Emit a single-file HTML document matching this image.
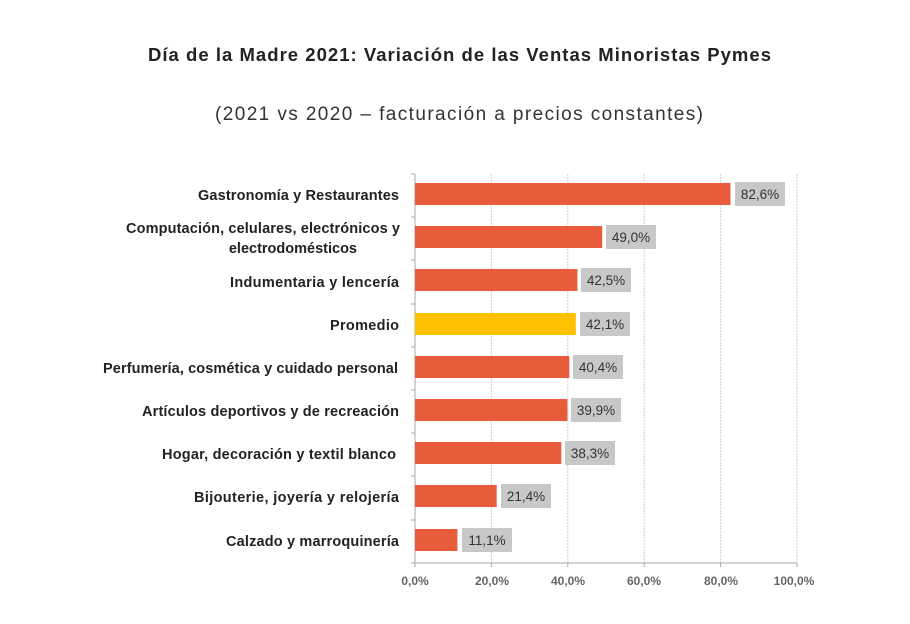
<!DOCTYPE html>
<html><head><meta charset="utf-8"><style>
body{margin:0;width:910px;height:619px;background:#fff;font-family:"Liberation Sans",sans-serif;overflow:hidden}
</style></head><body>
<svg width="910" height="619" xmlns="http://www.w3.org/2000/svg" font-family="Liberation Sans, sans-serif">
<text x="148" y="61" textLength="623" lengthAdjust="spacing" font-size="18.5" font-weight="bold" fill="#222">Día de la Madre 2021: Variación de las Ventas Minoristas Pymes</text>
<text x="215" y="120" textLength="488" lengthAdjust="spacing" font-size="19" fill="#333">(2021 vs 2020 – facturación a precios constantes)</text>
<g stroke="#cfcfcf" stroke-dasharray="2,1">
<line x1="491.4" y1="174" x2="491.4" y2="563"/>
<line x1="567.8" y1="174" x2="567.8" y2="563"/>
<line x1="644.2" y1="174" x2="644.2" y2="563"/>
<line x1="720.6" y1="174" x2="720.6" y2="563"/>
<line x1="797" y1="174" x2="797" y2="563"/>
</g>
<g stroke="#aaa">
<line x1="415" y1="174" x2="415" y2="563"/>
<line x1="415" y1="563" x2="797" y2="563"/>
<line x1="411" y1="174" x2="415" y2="174"/><line x1="411" y1="217" x2="415" y2="217"/><line x1="411" y1="260" x2="415" y2="260"/><line x1="411" y1="304" x2="415" y2="304"/><line x1="411" y1="347" x2="415" y2="347"/><line x1="411" y1="390" x2="415" y2="390"/><line x1="411" y1="433" x2="415" y2="433"/><line x1="411" y1="476" x2="415" y2="476"/><line x1="411" y1="520" x2="415" y2="520"/><line x1="411" y1="563" x2="415" y2="563"/>
<line x1="415" y1="563" x2="415" y2="567"/><line x1="491.4" y1="563" x2="491.4" y2="567"/><line x1="567.8" y1="563" x2="567.8" y2="567"/><line x1="644.2" y1="563" x2="644.2" y2="567"/><line x1="720.6" y1="563" x2="720.6" y2="567"/><line x1="797" y1="563" x2="797" y2="567"/>
</g>
<g font-size="12" font-weight="bold" fill="#666" text-anchor="middle">
<text x="415" y="585">0,0%</text><text x="492" y="585">20,0%</text><text x="568" y="585">40,0%</text><text x="644" y="585">60,0%</text><text x="721" y="585">80,0%</text><text x="794" y="585">100,0%</text>
</g>
<g font-size="14.5" font-weight="bold" fill="#222" text-anchor="end">
<text x="399" y="200" textLength="201">Gastronomía y Restaurantes</text>
<text x="400" y="233" textLength="274">Computación, celulares, electrónicos y</text>
<text x="357" y="253">electrodomésticos</text>
<text x="399" y="287" textLength="169">Indumentaria y lencería</text>
<text x="399" y="330" textLength="69">Promedio</text>
<text x="398" y="373" textLength="295">Perfumería, cosmética y cuidado personal</text>
<text x="399" y="416" textLength="257">Artículos deportivos y de recreación</text>
<text x="396" y="459" textLength="234">Hogar, decoración y textil blanco</text>
<text x="399" y="502" textLength="205">Bijouterie, joyería y relojería</text>
<text x="399" y="546" textLength="173">Calzado y marroquinería</text>
</g>
<g font-size="13.5" fill="#333" text-anchor="middle">
<rect x="415" y="183" width="315.5" height="22" fill="#e85c3c"/><rect x="735" y="182" width="50" height="24" fill="#c8c8c8"/><text x="760" y="199">82,6%</text>
<rect x="415" y="226" width="187.2" height="22" fill="#e85c3c"/><rect x="606" y="225" width="50" height="24" fill="#c8c8c8"/><text x="631" y="242">49,0%</text>
<rect x="415" y="269" width="162.4" height="22" fill="#e85c3c"/><rect x="581" y="268" width="50" height="24" fill="#c8c8c8"/><text x="606" y="285">42,5%</text>
<rect x="415" y="313" width="160.8" height="22" fill="#fdc100"/><rect x="580" y="312" width="50" height="24" fill="#c8c8c8"/><text x="605" y="329">42,1%</text>
<rect x="415" y="356" width="154.3" height="22" fill="#e85c3c"/><rect x="573" y="355" width="50" height="24" fill="#c8c8c8"/><text x="598" y="372">40,4%</text>
<rect x="415" y="399" width="152.4" height="22" fill="#e85c3c"/><rect x="571" y="398" width="50" height="24" fill="#c8c8c8"/><text x="596" y="415">39,9%</text>
<rect x="415" y="442" width="146.3" height="22" fill="#e85c3c"/><rect x="565" y="441" width="50" height="24" fill="#c8c8c8"/><text x="590" y="458">38,3%</text>
<rect x="415" y="485" width="81.7" height="22" fill="#e85c3c"/><rect x="501" y="484" width="50" height="24" fill="#c8c8c8"/><text x="526" y="501">21,4%</text>
<rect x="415" y="529" width="42.4" height="22" fill="#e85c3c"/><rect x="462" y="528" width="50" height="24" fill="#c8c8c8"/><text x="487" y="545">11,1%</text>
</g>
</svg>
</body></html>
